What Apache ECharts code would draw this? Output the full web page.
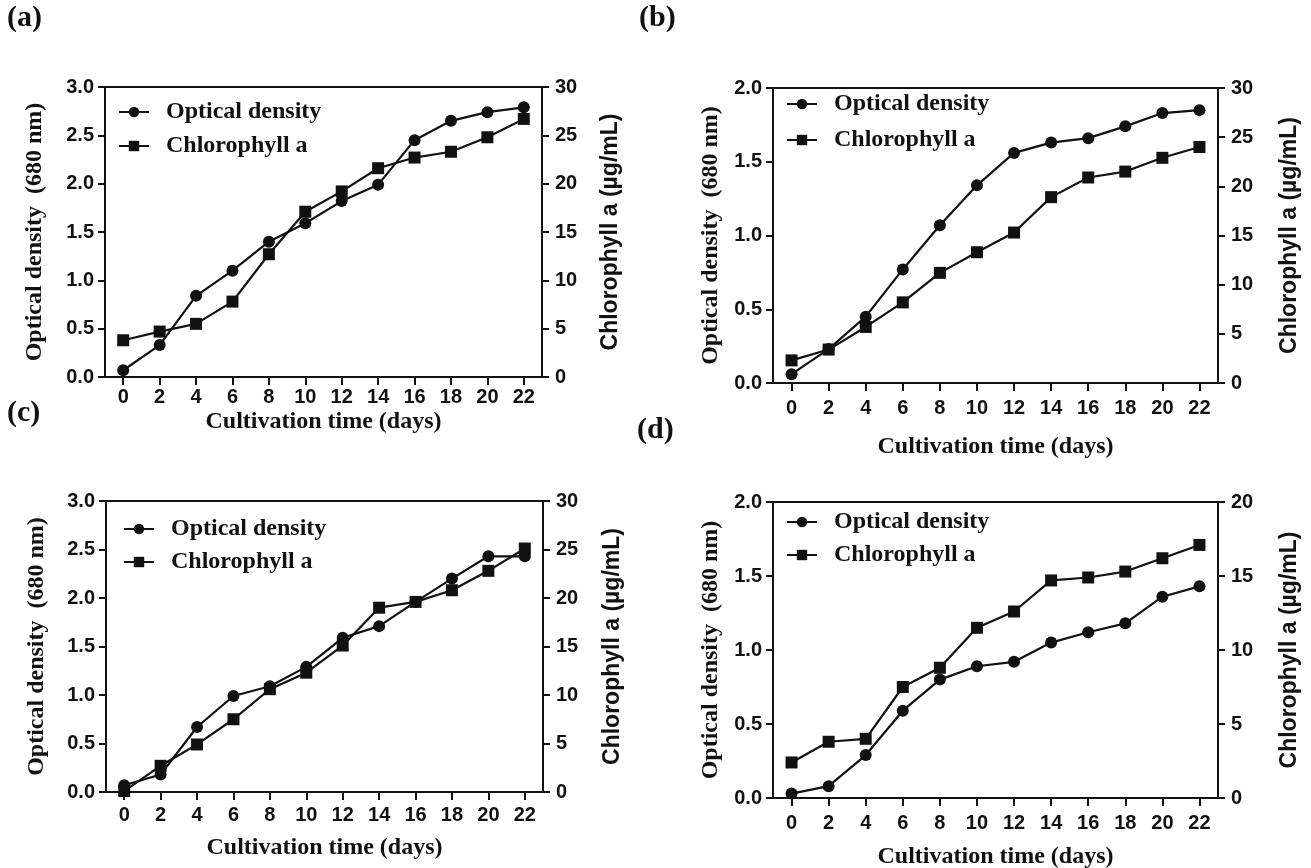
<!DOCTYPE html>
<html>
<head>
<meta charset="utf-8">
<script src="https://cdn.jsdelivr.net/npm/echarts@6/dist/echarts.min.js"></script>
<style>
html,body{margin:0;padding:0;background:#fff;}
#chart{width:1311px;height:868px;}
</style>
</head>
<body>
<div id="chart"></div>
<script>
// ---- data ----
const days = [0, 2, 4, 6, 8, 10, 12, 14, 16, 18, 20, 22];
const xTicks = [0, 2, 4, 6, 8, 10, 12, 14, 16, 18, 20, 22];

const odA  = [0.07, 0.33, 0.84, 1.10, 1.40, 1.59, 1.82, 1.99, 2.45, 2.65, 2.74, 2.79];
const chlA = [3.8, 4.7, 5.5, 7.8, 12.7, 17.1, 19.2, 21.6, 22.7, 23.3, 24.8, 26.7];

const odB  = [0.06, 0.23, 0.45, 0.77, 1.07, 1.34, 1.56, 1.63, 1.66, 1.74, 1.83, 1.85];
const chlB = [2.3, 3.4, 5.7, 8.2, 11.2, 13.3, 15.3, 18.9, 20.9, 21.5, 22.9, 24.0];

const odC  = [0.07, 0.18, 0.67, 0.99, 1.09, 1.29, 1.59, 1.71, 1.96, 2.20, 2.43, 2.43];
const chlC = [0.1, 2.7, 4.9, 7.5, 10.6, 12.3, 15.1, 19.0, 19.6, 20.8, 22.8, 25.1];

const odD  = [0.03, 0.08, 0.29, 0.59, 0.80, 0.89, 0.92, 1.05, 1.12, 1.18, 1.36, 1.43];
const chlD = [2.4, 3.8, 4.0, 7.5, 8.8, 11.5, 12.6, 14.7, 14.9, 15.3, 16.2, 17.1];

const panelLabels = ['(a)', '(b)', '(c)', '(d)'];
const odMax  = [3, 2, 3, 2];
const chlMax = [30, 30, 30, 20];
const seriesNames = ['Optical density', 'Chlorophyll a'];
const xTitle = 'Cultivation time (days)';
const yLeftTitle = 'Optical density  (680 nm)';
const yRightTitle = 'Chlorophyll a (\u00b5g/mL)';

// ---- layout / style ----
const SERIF = "'Liberation Serif','Times New Roman',serif";
const SANS = "'Liberation Sans',Arial,sans-serif";
const INK = '#111';

const panels = [
  {od: odA, chl: chlA, grid: {left: 105, top: 87, width: 437, height: 290},
   lab: {left: 7, top: 3}, leg: {left: 118, top: 100, gap: 10},
   xGap: 33, xMargin: 10, lGap: 58, rGap: 57},
  {od: odB, chl: chlB, grid: {left: 773, top: 88, width: 445, height: 295},
   lab: {left: 639, top: 3}, leg: {left: 786, top: 92, gap: 12},
   xGap: 52, xMargin: 15, lGap: 50, rGap: 60},
  {od: odC, chl: chlC, grid: {left: 106, top: 501, width: 437, height: 291},
   lab: {left: 7, top: 398}, leg: {left: 123, top: 517, gap: 9},
   xGap: 44, xMargin: 13, lGap: 57, rGap: 58},
  {od: odD, chl: chlD, grid: {left: 773, top: 502, width: 445, height: 296},
   lab: {left: 637, top: 415}, leg: {left: 786, top: 510, gap: 9},
   xGap: 47, xMargin: 15, lGap: 50, rGap: 60}
];

const grid = [], xAxis = [], yAxis = [], series = [], legend = [], title = [];

panels.forEach((p, i) => {
  grid.push(Object.assign({
    show: true, borderColor: INK, borderWidth: 2, backgroundColor: 'transparent',
    containLabel: false, outerBoundsMode: 'none'
  }, p.grid));

  xAxis.push({
    type: 'value', gridIndex: i, min: -1, max: 23,
    name: xTitle, nameLocation: 'middle', nameGap: p.xGap,
    nameTextStyle: {fontFamily: SERIF, fontWeight: 'bold', fontSize: 24, color: INK},
    splitLine: {show: false},
    axisLine: {show: true, onZero: false, lineStyle: {color: INK, width: 2}},
    axisTick: {show: true, customValues: xTicks, length: 8, inside: false, lineStyle: {color: INK, width: 2}},
    axisLabel: {show: true, customValues: xTicks, margin: p.xMargin, fontFamily: SANS,
      fontWeight: 'bold', fontSize: 20, color: INK}
  });

  yAxis.push({
    type: 'value', gridIndex: i, position: 'left', min: 0, max: odMax[i], interval: 0.5,
    name: yLeftTitle, nameLocation: 'middle', nameGap: p.lGap, nameRotate: 90,
    nameTextStyle: {fontFamily: SERIF, fontWeight: 'bold', fontSize: 24, color: INK},
    splitLine: {show: false},
    axisLine: {show: true, onZero: false, lineStyle: {color: INK, width: 2}},
    axisTick: {show: true, length: 7, lineStyle: {color: INK, width: 2}},
    axisLabel: {margin: 11, fontFamily: SANS, fontWeight: 'bold', fontSize: 20, color: INK,
      formatter: v => v.toFixed(1)}
  });

  yAxis.push({
    type: 'value', gridIndex: i, position: 'right', min: 0, max: chlMax[i], interval: 5,
    name: yRightTitle, nameLocation: 'middle', nameGap: p.rGap, nameRotate: 90,
    nameTextStyle: {fontFamily: SANS, fontWeight: 'bold', fontSize: 23, color: INK},
    splitLine: {show: false},
    axisLine: {show: true, onZero: false, lineStyle: {color: INK, width: 2}},
    axisTick: {show: true, length: 7, lineStyle: {color: INK, width: 2}},
    axisLabel: {margin: 13, fontFamily: SANS, fontWeight: 'bold', fontSize: 20, color: INK}
  });

  series.push({
    name: seriesNames[0], type: 'line', xAxisIndex: i, yAxisIndex: 2 * i,
    data: days.map((d, k) => [d, p.od[k]]),
    symbol: 'circle', symbolSize: 12,
    lineStyle: {color: INK, width: 2.2}, itemStyle: {color: INK},
    emphasis: {disabled: true}, animation: false, z: 3
  });
  series.push({
    name: seriesNames[1], type: 'line', xAxisIndex: i, yAxisIndex: 2 * i + 1,
    data: days.map((d, k) => [d, p.chl[k]]),
    symbol: 'rect', symbolSize: 12,
    lineStyle: {color: INK, width: 2.2}, itemStyle: {color: INK},
    emphasis: {disabled: true}, animation: false, z: 3
  });

  legend.push({
    data: seriesNames, orient: 'vertical', left: p.leg.left, top: p.leg.top,
    padding: 0, itemGap: p.leg.gap, itemWidth: 30, itemHeight: 13,
    selectedMode: false,
    textStyle: {fontFamily: SERIF, fontWeight: 'bold', fontSize: 24, color: INK,
      padding: [0, 0, 0, 12]}
  });

  title.push({
    text: panelLabels[i], left: p.lab.left, top: p.lab.top, padding: 0,
    textStyle: {fontFamily: SERIF, fontWeight: 'bold', fontSize: 30, color: INK}
  });
});

const chart = echarts.init(document.getElementById('chart'), null, {renderer: 'canvas'});
chart.setOption({
  backgroundColor: '#fff',
  animation: false,
  title, grid, xAxis, yAxis, series, legend
});
</script>
</body>
</html>
